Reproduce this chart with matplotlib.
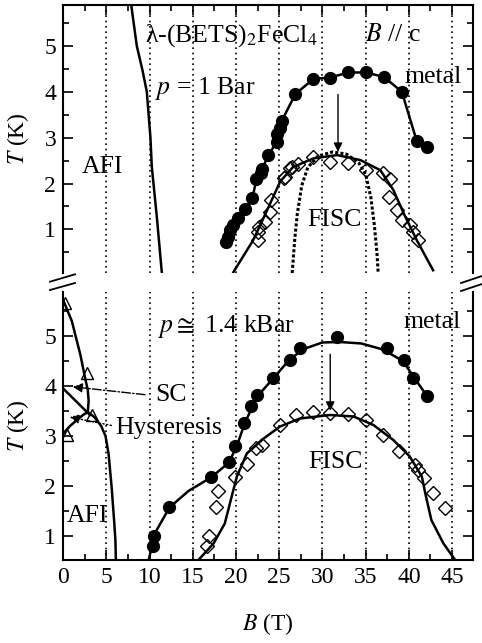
import matplotlib
matplotlib.use("Agg")
import matplotlib.pyplot as plt
from matplotlib.lines import Line2D
from matplotlib.ticker import MultipleLocator

plt.rcParams["font.family"] = ["Liberation Serif", "DejaVu Serif"]
plt.rcParams["mathtext.fontset"] = "stix"

# ---- upper panel: p = 1 bar ----
top_metal_B = [18.86, 19.05, 19.32, 19.7, 20.2, 21.06, 21.9, 22.37, 22.9, 23.0, 23.75,
               24.72, 24.79, 25.1, 25.3, 26.87, 28.96, 30.9, 33.0, 35.05, 37.14, 39.18,
               40.92, 42.15]
top_metal_T = [0.72, 0.83, 0.98, 1.09, 1.24, 1.44, 1.68, 2.10, 2.22, 2.31, 2.62,
               2.91, 3.09, 3.20, 3.37, 3.95, 4.28, 4.31, 4.42, 4.42, 4.32, 4.00,
               2.92, 2.80]

top_fisc_B = [22.6, 22.5, 22.7, 23.3, 23.9, 24.1, 25.5, 25.7, 26.3, 26.5, 27.15, 28.96,
              30.9, 33.0, 35.05, 37.05, 37.8, 37.7, 38.6, 39.2, 40.1, 40.5, 41.1]
top_fisc_T = [0.77, 0.95, 1.06, 1.17, 1.38, 1.64, 2.11, 2.15, 2.33, 2.36, 2.42, 2.58,
              2.47, 2.44, 2.29, 2.22, 2.10, 1.71, 1.42, 1.20, 1.09, 0.95, 0.77]

top_fit_B = [19.7, 22.0, 23.6, 25.1, 26.6, 29.0, 31.7, 34.4, 36.7, 38.2, 39.4, 40.9, 42.8]
top_fit_T = [0.07, 0.77, 1.42, 2.04, 2.36, 2.55, 2.62, 2.51, 2.29, 1.86, 1.35, 0.77, 0.11]

top_dash_B = [26.5, 26.8, 27.1, 27.6, 28.3, 29.5, 31.2, 32.8, 34.2, 35.0, 35.6, 36.0, 36.3, 36.45]
top_dash_T = [0.05, 0.8, 1.35, 1.95, 2.35, 2.6, 2.69, 2.64, 2.45, 2.2, 1.7, 1.1, 0.5, 0.05]

top_afi_B = [7.87, 8.52, 9.2, 9.68, 10.1, 10.26, 10.84, 11.42]
top_afi_T = [5.9, 5.0, 4.45, 4.0, 3.0, 2.36, 1.27, 0.05]

top_arrow_B = 31.8
top_arrow_T = [4.0, 2.63]

# ---- lower panel: p ~ 1.4 kbar ----
bot_metal_B = [10.37, 10.5, 12.3, 17.1, 19.2, 19.93, 20.97, 21.75, 22.4, 24.33, 26.3,
               27.4, 31.66, 37.5, 39.4, 40.5, 42.1]
bot_metal_T = [0.79, 1.0, 1.57, 2.17, 2.47, 2.80, 3.25, 3.59, 3.81, 4.15, 4.52,
               4.75, 4.97, 4.75, 4.52, 4.15, 3.80]

bot_metal_line_B = [9.9, 10.6, 12.3, 14.5, 17.1, 19.2, 20.2, 21.0, 22.4, 24.3, 26.3, 28.0,
                    30.0, 32.0, 34.5, 37.0, 39.3, 40.8, 42.1]
bot_metal_line_T = [0.52, 1.05, 1.57, 1.9, 2.17, 2.47, 2.85, 3.25, 3.78, 4.15, 4.55, 4.75,
                    4.87, 4.88, 4.85, 4.73, 4.5, 4.12, 3.8]

bot_fisc_B = [16.7, 16.9, 17.7, 17.97, 19.9, 21.25, 22.3, 22.98, 25.1, 26.96, 28.96, 30.9,
              33.0, 35.05, 37.0, 38.9, 40.7, 41.1, 41.7, 42.8, 44.2]
bot_fisc_T = [0.79, 1.0, 1.57, 1.89, 2.17, 2.43, 2.75, 2.82, 3.21, 3.42, 3.47, 3.45,
              3.44, 3.32, 3.02, 2.69, 2.42, 2.32, 2.15, 1.85, 1.55]

bot_fit_B = [15.65, 17.4, 18.7, 19.5, 20.1, 21.25, 23.2, 25.1, 27.4, 30.9, 33.6, 35.9,
             38.2, 40.1, 41.5, 41.9, 42.6, 44.0, 45.35]
bot_fit_T = [0.52, 0.85, 1.25, 1.79, 2.19, 2.65, 2.95, 3.19, 3.35, 3.42, 3.39, 3.22,
             2.92, 2.59, 2.19, 1.85, 1.32, 0.85, 0.52]

afi_up_B = [0.0, 1.0, 2.0, 2.55, 2.85, 2.95, 2.85]
afi_up_T = [5.72, 5.3, 4.62, 4.15, 3.92, 3.7, 3.48]

afi_low_B = [0.0, 0.8, 1.6, 2.3, 2.85, 3.6, 4.4, 4.9, 5.25, 5.6, 5.9, 6.05, 6.1]
afi_low_T = [3.05, 3.2, 3.32, 3.42, 3.48, 3.38, 3.2, 3.0, 2.65, 2.0, 1.3, 0.9, 0.52]

sc_line_B = [0.0, 3.1]
sc_line_T = [3.95, 3.42]

tri_B = [0.2, 2.74, 3.3, 0.42]
tri_T = [5.65, 4.25, 3.42, 3.02]

bot_arrow_B = 30.9
bot_arrow_T = [4.69, 3.45]

sc_arrow = [(9.8, 3.82), (0.8, 3.99)]
hys_arrow = [(5.9, 3.2), (0.45, 3.39)]

grid_B = [5, 10, 15, 20, 25, 30, 35, 40, 45]

fig = plt.figure(figsize=(4.82, 6.43), dpi=100)
ax1 = fig.add_axes([0.131, 0.5754, 0.850, 0.4168])
ax2 = fig.add_axes([0.131, 0.1291, 0.850, 0.4168])


def style(ax):
    ax.set_xlim(0, 47.4)
    ax.xaxis.set_major_locator(MultipleLocator(5))
    ax.xaxis.set_minor_locator(MultipleLocator(2.5))
    ax.yaxis.set_major_locator(MultipleLocator(1))
    ax.yaxis.set_minor_locator(MultipleLocator(0.5))
    ax.tick_params(which="both", direction="in", top=True, right=True,
                   labelsize=17, width=1.2, pad=5)
    ax.tick_params(which="major", length=7)
    ax.tick_params(which="minor", length=4)
    for x in grid_B:
        ax.axvline(x, color="k", ls=(0, (1, 2.2)), lw=1.2, zorder=0)
    for s in ax.spines.values():
        s.set_linewidth(1.5)
    ax.set_ylabel("$T$ (K)", fontsize=17)
    ax.yaxis.set_label_coords(-0.078, 0.5)


style(ax1)
style(ax2)

ax1.set_ylim(0.05, 5.89)
ax1.spines["bottom"].set_visible(False)
ax1.tick_params(which="both", bottom=False, labelbottom=False)

ax2.set_ylim(0.52, 5.88)
ax2.spines["top"].set_visible(False)
ax2.tick_params(which="both", top=False)
ax2.set_xlabel("$B$ (T)", fontsize=17, labelpad=17)

lw = 1.8
# upper panel
ax1.plot(top_afi_B, top_afi_T, color="k", lw=lw)
ax1.plot(top_metal_B, top_metal_T, color="k", lw=lw, marker="o", ms=8.5, mfc="k")
ax1.plot(top_fit_B, top_fit_T, color="k", lw=lw)
ax1.plot(top_dash_B, top_dash_T, color="k", lw=2.2, ls=(0, (1.0, 0.7)))
ax1.plot(top_fisc_B, top_fisc_T, ls="none", marker="D", ms=7.2, mfc="none",
         mec="k", mew=1)
ax1.annotate("", xy=(top_arrow_B, top_arrow_T[1]), xytext=(top_arrow_B, top_arrow_T[0]),
             arrowprops=dict(arrowstyle="-|>", color="k", lw=1, mutation_scale=13))

fs = 18.5
ax1.text(9.5, 5.23, r"λ-(BETS)$_2$FeCl$_4$", fontsize=fs, va="center")
ax1.text(34.9, 5.23, "$B$ // c", fontsize=fs, va="center")
ax1.text(10.6, 4.08, "$p$ = 1 Bar", fontsize=fs, va="center")
ax1.text(2.16, 2.36, "AFI", fontsize=fs, va="center")
ax1.text(39.5, 4.32, "metal", fontsize=fs, va="center")
ax1.text(28.3, 1.2, "FISC", fontsize=fs, va="center")

# lower panel
ax2.plot(afi_up_B, afi_up_T, color="k", lw=lw)
ax2.plot(afi_low_B, afi_low_T, color="k", lw=lw)
ax2.plot(sc_line_B, sc_line_T, color="k", lw=lw)
ax2.plot(tri_B, tri_T, ls="none", marker="^", ms=8, mfc="none", mec="k", mew=1)
ax2.plot(bot_metal_line_B, bot_metal_line_T, color="k", lw=lw)
ax2.plot(bot_metal_B, bot_metal_T, ls="none", marker="o", ms=8.5, mfc="k", mec="k")
ax2.plot(bot_fit_B, bot_fit_T, color="k", lw=lw)
ax2.plot(bot_fisc_B, bot_fisc_T, ls="none", marker="D", ms=7.2, mfc="none",
         mec="k", mew=1)
ax2.annotate("", xy=(bot_arrow_B, bot_arrow_T[1]), xytext=(bot_arrow_B, bot_arrow_T[0]),
             arrowprops=dict(arrowstyle="-|>", color="k", lw=1, mutation_scale=13))
ax2.annotate("", xy=sc_arrow[1], xytext=sc_arrow[0],
             arrowprops=dict(arrowstyle="-|>", color="k", lw=1, ls="-.",
                             mutation_scale=14))
ax2.annotate("", xy=hys_arrow[1], xytext=hys_arrow[0],
             arrowprops=dict(arrowstyle="-|>", color="k", lw=1, ls=":",
                             mutation_scale=14))

ax2.text(11.0, 5.18, r"$p\cong$ 1.4 kBar", fontsize=fs, va="center")
ax2.text(39.4, 5.28, "metal", fontsize=fs, va="center")
ax2.text(10.6, 3.82, "SC", fontsize=fs, va="center")
ax2.text(6.0, 3.16, "Hysteresis", fontsize=fs, va="center",
         bbox=dict(facecolor="white", edgecolor="none", pad=0))
ax2.text(0.45, 1.39, "AFI", fontsize=fs, va="center")
ax2.text(28.4, 2.48, "FISC", fontsize=fs, va="center")

# axis break marks
W, H = 482.0, 643.0
for x0, x1, y0, y1 in [(50, 75, 281.7, 274.3), (50, 75, 290, 283),
                       (461, 482, 283, 276), (461, 482, 291, 284)]:
    fig.add_artist(Line2D([x0 / W, x1 / W], [1 - y0 / H, 1 - y1 / H],
                          transform=fig.transFigure, color="k", lw=1.3))

fig.savefig("out.png", dpi=100)
